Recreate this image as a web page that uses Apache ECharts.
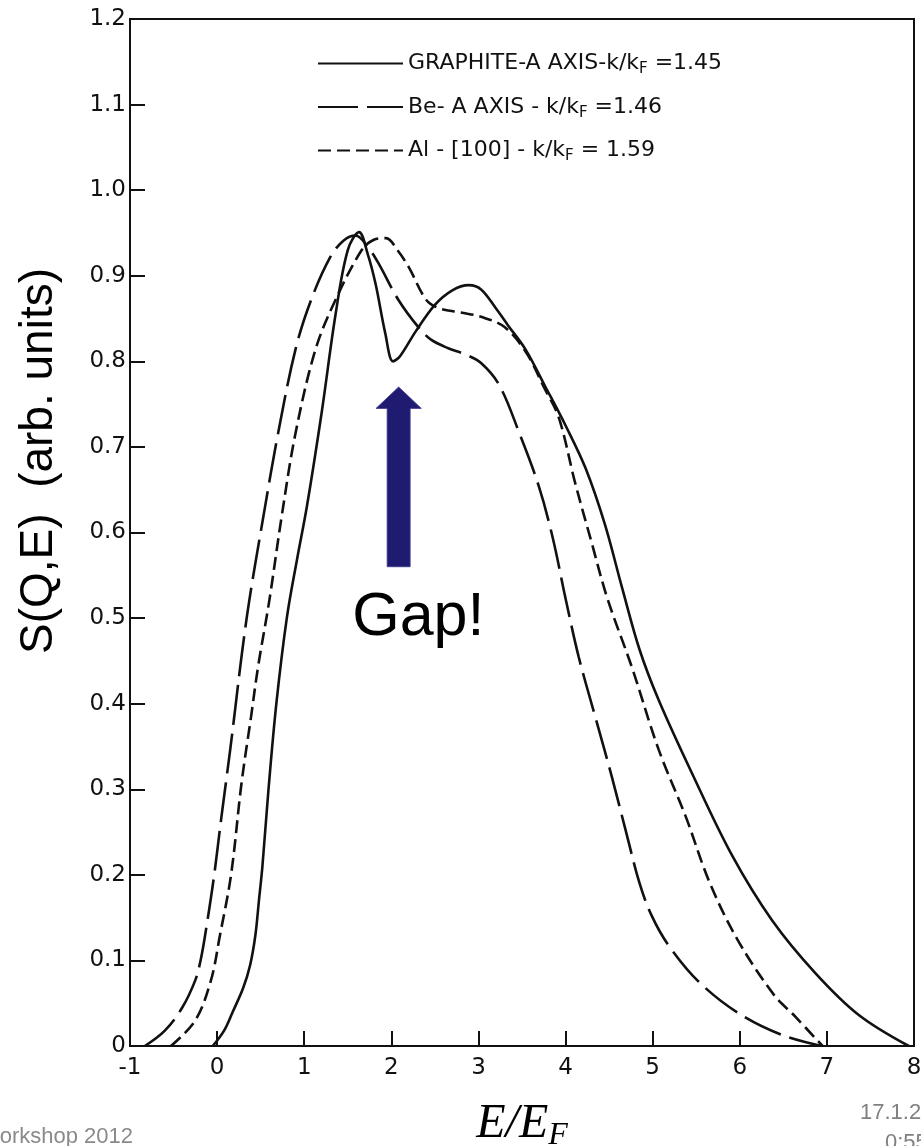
<!DOCTYPE html>
<html><head><meta charset="utf-8">
<script src="https://cdn.jsdelivr.net/npm/echarts@6/dist/echarts.min.js"></script>
<style>html,body{margin:0;padding:0;background:#fff;overflow:hidden}#c{width:921px;height:1146px}</style>
</head><body><div id="c"></div>
<script>
// ---- data ----
const xTickValues = [-1, 0, 1, 2, 3, 4, 5, 6, 7, 8];
const yTickValues = [0, 0.1, 0.2, 0.3, 0.4, 0.5, 0.6, 0.7, 0.8, 0.9, 1.0, 1.1, 1.2];
const seriesNames = ['GRAPHITE-A AXIS', 'Be- A AXIS', 'Al-[100]'];
const legendLabels = ['GRAPHITE-A AXIS-k/k{s|F} =1.45', 'Be- A AXIS - k/k{s|F} =1.46', 'Al - [100] - k/k{s|F} = 1.59'];
const graphite = [[-0.05,0],[0.08,0.018],[0.18,0.04],[0.3,0.068],[0.38,0.095],[0.44,0.13],[0.48,0.17],[0.52,0.21],[0.59,0.3],[0.68,0.4],[0.8,0.5],[0.92,0.57],[1.03,0.63],[1.2,0.74],[1.36,0.855],[1.5,0.93],[1.63,0.951],[1.73,0.925],[1.82,0.89],[1.93,0.833],[2.02,0.80],[2.1,0.806],[2.28,0.835],[2.5,0.866],[2.7,0.883],[2.89,0.889],[3.03,0.884],[3.2,0.862],[3.34,0.842],[3.54,0.814],[3.77,0.77],[4.0,0.725],[4.23,0.675],[4.45,0.61],[4.65,0.535],[4.85,0.463],[5.07,0.404],[5.45,0.319],[5.91,0.223],[6.37,0.147],[6.87,0.085],[7.37,0.036],[7.94,0]];
const beryllium = [[-0.83,0],[-0.6,0.018],[-0.4,0.045],[-0.25,0.077],[-0.19,0.1],[-0.14,0.128],[-0.04,0.195],[0.05,0.268],[0.15,0.346],[0.21,0.396],[0.28,0.455],[0.37,0.521],[0.53,0.618],[0.70,0.716],[0.90,0.814],[1.08,0.872],[1.3,0.922],[1.45,0.941],[1.59,0.947],[1.72,0.935],[1.85,0.915],[2.08,0.872],[2.31,0.84],[2.46,0.825],[2.66,0.815],[2.85,0.808],[3.03,0.798],[3.24,0.772],[3.47,0.716],[3.69,0.655],[3.85,0.595],[4.0,0.523],[4.15,0.455],[4.34,0.385],[4.53,0.315],[4.69,0.252],[4.85,0.19],[4.99,0.152],[5.18,0.118],[5.53,0.075],[5.99,0.038],[6.48,0.013],[6.94,0]];
const aluminium = [[-0.53,0],[-0.25,0.03],[-0.07,0.077],[0.03,0.128],[0.16,0.2],[0.28,0.307],[0.39,0.385],[0.47,0.443],[0.6,0.521],[0.74,0.618],[0.90,0.716],[1.13,0.814],[1.36,0.872],[1.66,0.93],[1.8,0.942],[1.94,0.944],[2.07,0.93],[2.2,0.91],[2.4,0.872],[2.55,0.862],[2.8,0.857],[3.03,0.852],[3.3,0.84],[3.55,0.81],[3.75,0.77],[3.92,0.735],[4.11,0.658],[4.30,0.588],[4.48,0.523],[4.76,0.443],[5.07,0.346],[5.38,0.268],[5.65,0.192],[5.97,0.125],[6.39,0.06],[6.64,0.034],[6.95,0]];
// annotation anchors in data units
const arrowX = 2.084, arrowTip = 0.77, arrowHeadBase = 0.745, arrowBottom = 0.56, arrowHeadHalf = 0.26, arrowShaftHalf = 0.132;
const gapLabel = {x: 2.31, y: 0.50, text: 'Gap!'};

const tickFont = 'DejaVu Sans';
const chart = echarts.init(document.getElementById('c'), null, {renderer: 'canvas'});
const lineBase = {type: 'line', showSymbol: false, symbol: 'none', smooth: 0.35, z: 3};
chart.setOption({
  animation: false,
  backgroundColor: '#fff',
  grid: {left: 130, right: 7, top: 19, bottom: 100, outerBoundsMode: 'none', containLabel: false, show: true, borderColor: '#111', borderWidth: 2},
  legend: {
    orient: 'vertical', left: 312, top: 45, itemWidth: 85, itemHeight: 14, itemGap: 16.5,
    data: seriesNames,
    itemStyle: {opacity: 0},
    formatter: n => legendLabels[seriesNames.indexOf(n)],
    textStyle: {fontFamily: tickFont, fontSize: 22, color: '#111', lineHeight: 27,
      rich: {s: {fontFamily: tickFont, fontSize: 15, color: '#111', verticalAlign: 'bottom', lineHeight: 14}}}
  },
  xAxis: {
    type: 'value', min: -1, max: 8, interval: 1,
    axisLine: {onZero: false, lineStyle: {color: '#111', width: 2}},
    axisTick: {inside: true, length: 15, lineStyle: {color: '#111', width: 2}},
    splitLine: {show: false},
    axisLabel: {margin: 11, fontFamily: tickFont, fontSize: 23, color: '#111', formatter: v => xTickValues.includes(v) ? String(v) : ''},
    name: '{i|E/E}{s|F}', nameLocation: 'middle', nameGap: 50,
    nameTextStyle: {rich: {
      i: {fontFamily: 'Liberation Serif', fontStyle: 'italic', fontSize: 48, color: '#000', lineHeight: 56},
      s: {fontFamily: 'Liberation Serif', fontStyle: 'italic', fontSize: 32, color: '#000', verticalAlign: 'bottom', lineHeight: 10}
    }}
  },
  yAxis: {
    type: 'value', min: 0, max: 1.2, interval: 0.1,
    axisLine: {onZero: false, lineStyle: {color: '#111', width: 2}},
    axisTick: {inside: true, length: 15, lineStyle: {color: '#111', width: 2}},
    splitLine: {show: false},
    axisLabel: {margin: 4, fontFamily: tickFont, fontSize: 23, color: '#111',
      formatter: v => { const t = yTickValues.find(u => Math.abs(u - v) < 1e-6); return t === undefined ? '' : (t === 0 ? '0' : t.toFixed(1)); }}
  },
  series: [
    Object.assign({}, lineBase, {name: seriesNames[0], data: graphite, lineStyle: {color: '#111', width: 2.6, type: 'solid'}, itemStyle: {color: '#111'}}),
    Object.assign({}, lineBase, {name: seriesNames[1], data: beryllium, lineStyle: {color: '#111', width: 2.6, type: [40, 9]}, itemStyle: {color: '#111'}}),
    Object.assign({}, lineBase, {name: seriesNames[2], data: aluminium, lineStyle: {color: '#111', width: 2.6, type: [13, 6]}, itemStyle: {color: '#111'}})
  ]
});

const P = (x, y) => chart.convertToPixel({gridIndex: 0}, [x, y]);
const tip = P(arrowX, arrowTip), hbL = P(arrowX - arrowHeadHalf, arrowHeadBase), hbR = P(arrowX + arrowHeadHalf, arrowHeadBase);
const sL = P(arrowX - arrowShaftHalf, arrowHeadBase), sR = P(arrowX + arrowShaftHalf, arrowHeadBase);
const bL = P(arrowX - arrowShaftHalf, arrowBottom), bR = P(arrowX + arrowShaftHalf, arrowBottom);
const gp = P(gapLabel.x, gapLabel.y);
chart.setOption({graphic: [
  {type: 'polygon', shape: {points: [tip, hbR, sR, bR, bL, sL, hbL]}, style: {fill: '#1F1B70', stroke: '#3a3690', lineWidth: 0.8}, z: 10},
  {type: 'text', x: gp[0], y: gp[1], style: {text: gapLabel.text, fontFamily: 'Liberation Sans', fontSize: 61, fill: '#000', textAlign: 'center', textVerticalAlign: 'middle'}, z: 10},
  {type: 'text', x: 39, y: 461, rotation: Math.PI / 2, style: {text: 'S(Q,E)  (arb. units)', fontFamily: 'Liberation Sans', fontSize: 46, fill: '#000', textAlign: 'center', textVerticalAlign: 'middle'}, z: 10},
  {type: 'text', x: 133, y: 1126, style: {text: 'Workshop 2012', fontFamily: 'Liberation Sans', fontSize: 22, fill: '#8a8a8a', textAlign: 'right', textVerticalAlign: 'top'}},
  {type: 'text', x: 860, y: 1102, style: {text: '17.1.2012', fontFamily: 'Liberation Sans', fontSize: 22, fill: '#808080', textAlign: 'left', textVerticalAlign: 'top'}},
  {type: 'text', x: 885, y: 1132, style: {text: '0:55', fontFamily: 'Liberation Sans', fontSize: 22, fill: '#808080', textAlign: 'left', textVerticalAlign: 'top'}}
]});
</script></body></html>
